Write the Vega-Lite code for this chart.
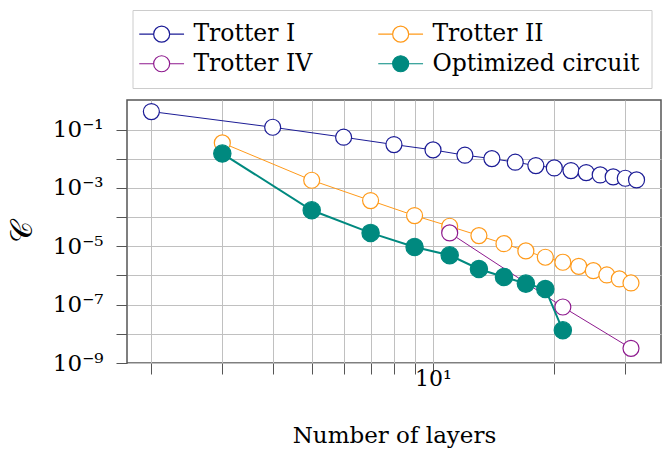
{
  "$schema": "https://vega.github.io/schema/vega-lite/v6.json",
  "width": 534,
  "height": 263,
  "autosize": "none",
  "padding": {"left": 127, "top": 100, "right": 9, "bottom": 88},
  "config": {
    "view": {"stroke": "#555555", "strokeWidth": 1.5},
    "font": "DejaVu Serif"
  },
  "data": {
    "values": [
      {"series": "Trotter I", "layers": 2, "C": 0.414},
      {"series": "Trotter I", "layers": 4, "C": 0.12},
      {"series": "Trotter I", "layers": 6, "C": 0.0546},
      {"series": "Trotter I", "layers": 8, "C": 0.0306},
      {"series": "Trotter I", "layers": 10, "C": 0.0201},
      {"series": "Trotter I", "layers": 12, "C": 0.0132},
      {"series": "Trotter I", "layers": 14, "C": 0.0101},
      {"series": "Trotter I", "layers": 16, "C": 0.0076},
      {"series": "Trotter I", "layers": 18, "C": 0.00583},
      {"series": "Trotter I", "layers": 20, "C": 0.00485},
      {"series": "Trotter I", "layers": 22, "C": 0.00393},
      {"series": "Trotter I", "layers": 24, "C": 0.00336},
      {"series": "Trotter I", "layers": 26, "C": 0.00279},
      {"series": "Trotter I", "layers": 28, "C": 0.00238},
      {"series": "Trotter I", "layers": 30, "C": 0.00214},
      {"series": "Trotter I", "layers": 32, "C": 0.00188},
      {"series": "Trotter II", "layers": 3, "C": 0.0349},
      {"series": "Trotter II", "layers": 5, "C": 0.00183},
      {"series": "Trotter II", "layers": 7, "C": 0.000368},
      {"series": "Trotter II", "layers": 9, "C": 0.0001125},
      {"series": "Trotter II", "layers": 11, "C": 0.0000485},
      {"series": "Trotter II", "layers": 13, "C": 0.0000232},
      {"series": "Trotter II", "layers": 15, "C": 0.0000123},
      {"series": "Trotter II", "layers": 17, "C": 0.00000692},
      {"series": "Trotter II", "layers": 19, "C": 0.0000042},
      {"series": "Trotter II", "layers": 21, "C": 0.00000283},
      {"series": "Trotter II", "layers": 23, "C": 0.00000206},
      {"series": "Trotter II", "layers": 25, "C": 0.00000146},
      {"series": "Trotter II", "layers": 27, "C": 0.00000104},
      {"series": "Trotter II", "layers": 29, "C": 0.00000076},
      {"series": "Trotter II", "layers": 31, "C": 0.000000553},
      {"series": "Trotter IV", "layers": 11, "C": 0.0000287},
      {"series": "Trotter IV", "layers": 21, "C": 0.000000083},
      {"series": "Trotter IV", "layers": 31, "C": 0.00000000318},
      {"series": "Optimized circuit", "layers": 3, "C": 0.01503},
      {"series": "Optimized circuit", "layers": 5, "C": 0.000171},
      {"series": "Optimized circuit", "layers": 7, "C": 0.0000287},
      {"series": "Optimized circuit", "layers": 9, "C": 0.0000095},
      {"series": "Optimized circuit", "layers": 11, "C": 0.00000491},
      {"series": "Optimized circuit", "layers": 13, "C": 0.00000167},
      {"series": "Optimized circuit", "layers": 15, "C": 0.00000089},
      {"series": "Optimized circuit", "layers": 17, "C": 0.000000525},
      {"series": "Optimized circuit", "layers": 19, "C": 0.000000344},
      {"series": "Optimized circuit", "layers": 21, "C": 0.0000000132}
    ]
  },
  "encoding": {
    "x": {
      "field": "layers",
      "type": "quantitative",
      "scale": {"type": "log", "domain": [1.74, 36.8], "nice": false},
      "axis": {
        "values": [2, 3, 4, 5, 6, 7, 8, 9, 10, 20, 30],
        "labelExpr": "datum.value == 10 ? '10¹' : ''",
        "labelFlush": false,
        "labelFontSize": 22,
        "labelColor": "#000000",
        "labelPadding": -6,
        "grid": true,
        "gridColor": "#c0c0c0",
        "gridWidth": 1,
        "domain": false,
        "tickSize": 11,
        "tickColor": "#555555",
        "title": "Number of layers",
        "titleFontSize": 23,
        "titleFontWeight": "normal",
        "titleColor": "#000000",
        "titlePadding": 35
      }
    },
    "y": {
      "field": "C",
      "type": "quantitative",
      "scale": {"type": "log", "domain": [1e-9, 1.03], "nice": false},
      "axis": {
        "values": [1e-9, 1e-8, 1e-7, 1e-6, 1e-5, 1e-4, 1e-3, 1e-2, 1e-1],
        "labelExpr": "round(log(datum.value)/LN10) == -1 ? '10⁻¹' : round(log(datum.value)/LN10) == -3 ? '10⁻³' : round(log(datum.value)/LN10) == -5 ? '10⁻⁵' : round(log(datum.value)/LN10) == -7 ? '10⁻⁷' : round(log(datum.value)/LN10) == -9 ? '10⁻⁹' : ''",
        "labelFlush": false,
        "labelFontSize": 23,
        "labelColor": "#000000",
        "labelPadding": 13,
        "grid": true,
        "gridColor": "#c0c0c0",
        "gridWidth": 1,
        "domain": false,
        "tickSize": 11,
        "tickColor": "#555555",
        "title": "𝒞",
        "titleFontSize": 30,
        "titleFontWeight": "normal",
        "titleColor": "#000000",
        "titlePadding": 15
      }
    },
    "color": {
      "field": "series",
      "type": "nominal",
      "sort": null,
      "scale": {
        "domain": ["Trotter I", "Trotter II", "Trotter IV", "Optimized circuit"],
        "range": ["#1c1c96", "#ff9a1a", "#8e1a8e", "#00897f"]
      },
      "legend": {
        "orient": "none",
        "legendX": 5.5,
        "legendY": -90,
        "title": null,
        "columns": 2,
        "direction": "horizontal",
        "symbolType": "M-2.8,0L-1,0M1,0L2.8,0M-1,0A1,1 0 1,1 1,0A1,1 0 1,1 -1,0Z",
        "symbolSize": 256,
        "symbolStrokeWidth": 1.2,
        "symbolOffset": 5.4,
        "labelFont": "DejaVu Serif",
        "labelFontSize": 23.5,
        "labelColor": "#000000",
        "labelOffset": 20,
        "labelLimit": 400,
        "columnPadding": 63,
        "rowPadding": 5,
        "padding": 12,
        "strokeColor": "#cccccc",
        "fillColor": "#ffffff",
        "encode": {
          "symbols": {
            "update": {
              "fill": {"signal": "datum.value === 'Optimized circuit' ? '#2a9d96' : 'white'"},
              "size": {"value": 256},
              "opacity": {"value": 1}
            }
          }
        }
      }
    }
  },
  "layer": [
    {
      "mark": {"type": "line"},
      "encoding": {
        "strokeWidth": {
          "condition": {"test": "datum.series === 'Optimized circuit'", "value": 2},
          "value": 1
        }
      }
    },
    {
      "mark": {"type": "point", "shape": "circle", "opacity": 1, "strokeWidth": 1.2},
      "encoding": {
        "fill": {
          "field": "series",
          "type": "nominal",
          "scale": {"domain": ["Trotter I", "Trotter II", "Trotter IV", "Optimized circuit"], "range": ["#ffffff", "#ffffff", "#ffffff", "#00897f"]},
          "legend": null
        },
        "size": {
          "condition": {"test": "datum.series === 'Optimized circuit'", "value": 300},
          "value": 256
        }
      }
    }
  ]
}
